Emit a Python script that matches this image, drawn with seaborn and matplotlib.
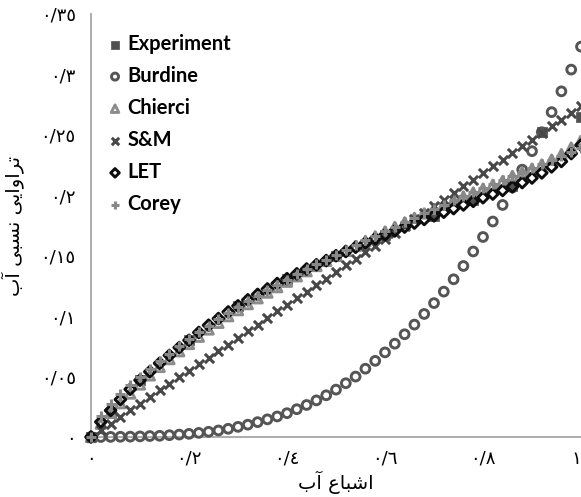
import numpy as np
import pandas as pd
import matplotlib
matplotlib.use("Agg")
import matplotlib.pyplot as plt
import seaborn as sns

# ---------------- data ----------------
sw = [round(i * 0.02, 2) for i in range(51)]

burdine = [0, 0, 0.0001, 0.0002, 0.0003, 0.0005, 0.0008, 0.001, 0.0015, 0.002,
           0.0026, 0.0034, 0.0043, 0.0054, 0.0068, 0.0084, 0.0102, 0.0123, 0.0146, 0.0170,
           0.0197, 0.0230, 0.0265, 0.0303, 0.0345, 0.0392, 0.0445, 0.0500, 0.0565, 0.0630,
           0.0700, 0.0772, 0.0850, 0.0930, 0.1018, 0.1108, 0.1203, 0.1305, 0.1415, 0.1535,
           0.1655, 0.1783, 0.1920, 0.2065, 0.2212, 0.2365, 0.2522, 0.2688, 0.2860, 0.3040,
           0.3230]

chierci = [0, 0.011, 0.020, 0.028, 0.036, 0.0435, 0.051, 0.058, 0.0645, 0.071,
           0.077, 0.083, 0.089, 0.0945, 0.100, 0.105, 0.110, 0.1148, 0.1195, 0.124,
           0.1285, 0.133, 0.1372, 0.1415, 0.1457, 0.150, 0.154, 0.158, 0.162, 0.166,
           0.170, 0.1738, 0.1776, 0.1813, 0.185, 0.1887, 0.1922, 0.1957, 0.199, 0.2023,
           0.2055, 0.2087, 0.2118, 0.216, 0.219, 0.222, 0.2255, 0.2295, 0.234, 0.2395,
           0.2455]

s_and_m = [0, 0.006, 0.011, 0.0165, 0.022, 0.0275, 0.033, 0.0385, 0.044, 0.0493,
           0.0548, 0.060, 0.0655, 0.071, 0.0765, 0.082, 0.0875, 0.093, 0.0985, 0.104,
           0.1093, 0.1147, 0.120, 0.1255, 0.131, 0.1365, 0.142, 0.1473, 0.1527, 0.158,
           0.1635, 0.169, 0.1745, 0.180, 0.1855, 0.191, 0.1965, 0.202, 0.2075, 0.213,
           0.2185, 0.224, 0.2295, 0.235, 0.2405, 0.246, 0.2515, 0.257, 0.2625, 0.268,
           0.2735]

let = [0, 0.0125, 0.022, 0.031, 0.0395, 0.047, 0.054, 0.061, 0.0675, 0.074,
       0.080, 0.0865, 0.0925, 0.098, 0.1035, 0.1085, 0.1135, 0.118, 0.1225, 0.127,
       0.131, 0.135, 0.139, 0.1425, 0.146, 0.150, 0.1535, 0.157, 0.1605, 0.164,
       0.1673, 0.1705, 0.1737, 0.177, 0.180, 0.183, 0.186, 0.189, 0.192, 0.195,
       0.198, 0.201, 0.204, 0.207, 0.2105, 0.2143, 0.2185, 0.2235, 0.228, 0.2345,
       0.2415]

corey = [0, 0.017, 0.027, 0.0355, 0.043, 0.050, 0.0565, 0.063, 0.069, 0.075,
         0.0808, 0.0865, 0.092, 0.0973, 0.1025, 0.1075, 0.1123, 0.117, 0.1215, 0.126,
         0.1303, 0.1345, 0.1387, 0.1428, 0.1468, 0.1508, 0.1548, 0.1587, 0.1626, 0.1664,
         0.1702, 0.174, 0.1777, 0.1814, 0.185, 0.1886, 0.1922, 0.1957, 0.1992, 0.2027,
         0.2061, 0.2095, 0.2129, 0.2162, 0.2195, 0.2228, 0.2261, 0.2294, 0.2326, 0.2358,
         0.239]

exp_sw = [0, 0.04, 0.1, 0.2, 0.3, 0.4, 0.5, 0.6, 0.7, 0.78, 0.86, 0.92, 1.0]
exp_kr = [0, 0.020, 0.047, 0.080, 0.108, 0.131, 0.150, 0.167, 0.183, 0.196, 0.208, 0.252, 0.265]

x_ticks = [0, 0.2, 0.4, 0.6, 0.8, 1.0]
x_tick_labels = ["٠", "٠/٢", "٠/٤", "٠/٦", "٠/٨", "١"]
y_ticks = [0, 0.05, 0.1, 0.15, 0.2, 0.25, 0.3, 0.35]
y_tick_labels = ["٠", "٠/٠٥", "٠/١", "٠/١٥", "٠/٢", "٠/٢٥", "٠/٣", "٠/٣٥"]

# Persian labels in visual (shaped, left-to-right) order
x_label = "\uFE8F\uFE81 \uFEC9\uFE8E\uFE92\uFEB7\uFE8D"          # اشباع آب
y_label = "\uFE8F\uFE81 \uFEF0\uFE92\uFEB4\uFEE7 \uFEF0\uFEF3\uFE8D\uFEED\uFE8D\uFEAE\uFE97"  # تراوایی نسبی آب

# ---------------- plot ----------------
sns.set_theme(style="white")
plt.rcParams['font.family'] = ['DejaVu Sans']

fig = plt.figure(figsize=(5.81, 4.97), dpi=100)
ax = fig.add_axes([91 / 581, 1 - 437 / 497, 490 / 581, 423 / 497])

df_exp = pd.DataFrame({"sw": exp_sw, "kr": exp_kr})
sns.scatterplot(data=df_exp, x="sw", y="kr", ax=ax, marker="s", s=46,
                color="#505050", edgecolor="#505050", linewidth=0.5,
                label="Experiment", clip_on=False, zorder=3)

series = [
    ("Burdine", burdine, "o", "#555555", True, 40),
    ("Chierci", chierci, "^", "#8c8c8c", True, 46),
    ("S&M", s_and_m, "X", "#484848", False, 0),
    ("LET", let, "D", "#0d0d0d", True, 30),
    ("Corey", corey, "P", "#888888", False, 0),
]
for name, vals, mk, col, hollow, size in series:
    d = pd.DataFrame({"sw": sw, "kr": vals})
    if hollow:
        sns.scatterplot(data=d, x="sw", y="kr", ax=ax, marker=mk, s=size,
                        facecolor="none", edgecolor=col, linewidth=2.1,
                        label=name, clip_on=False, zorder=3)
    else:
        sns.scatterplot(data=d, x="sw", y="kr", ax=ax, marker="x" if mk == "X" else "+",
                        s=44, color=col, linewidth=2.2,
                        label=name, clip_on=False, zorder=3)

ax.set_xlim(0, 1)
ax.set_ylim(0, 0.35)
ax.set_xticks(x_ticks)
ax.set_xticklabels(x_tick_labels, fontsize=13)
ax.get_xticklabels()[-1].set_horizontalalignment("right")
ax.set_yticks(y_ticks)
ax.set_yticklabels(y_tick_labels, fontsize=13)

for side in ["top", "right"]:
    ax.spines[side].set_visible(False)
for side in ["left", "bottom"]:
    ax.spines[side].set_color("#a6a6a6")
    ax.spines[side].set_linewidth(1.3)
ax.tick_params(axis="both", direction="out", length=5, width=1.1, color="#a6a6a6",
               labelcolor="#000000", pad=4)
ax.tick_params(axis="y", pad=6)

ax.set_xlabel(x_label, fontsize=14, color="#000000", labelpad=2)
ax.set_ylabel(y_label, fontsize=14, color="#000000", labelpad=12)

leg = ax.legend(loc="upper left", bbox_to_anchor=(0.01, 0.977), frameon=False,
                prop={"family": "Lato", "weight": "bold", "size": 14.5},
                handletextpad=0.15, labelspacing=0.6, handlelength=0.9,
                borderpad=0, markerscale=0.8)
for t in leg.get_texts():
    t.set_color("#000000")

fig.savefig("out.png", dpi=100)
